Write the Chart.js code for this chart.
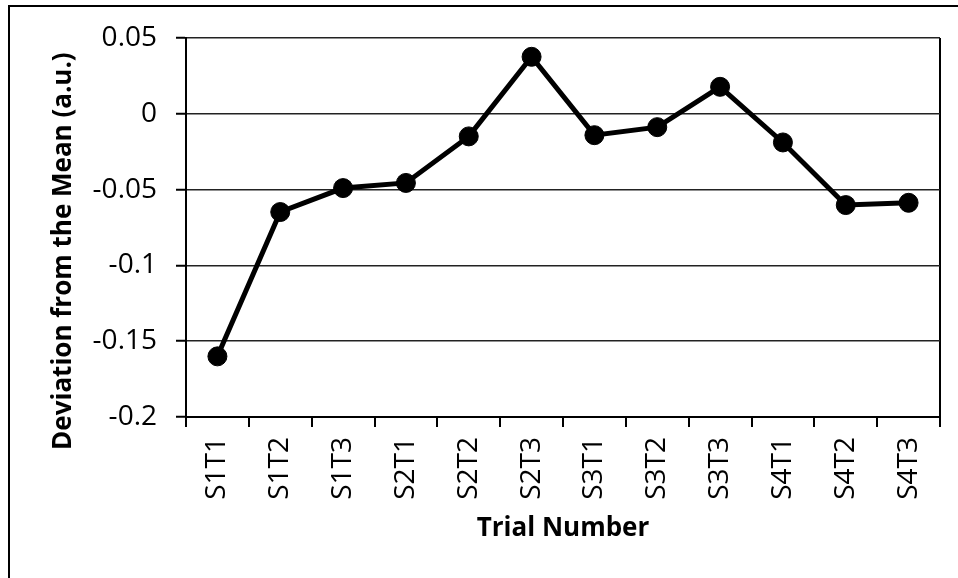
<!DOCTYPE html>
<html>
<head>
<meta charset="utf-8">
<script src="https://cdn.jsdelivr.net/npm/chart.js@4.4.1/dist/chart.umd.min.js"></script>
<style>
  html, body { margin: 0; padding: 0; background: #fff; overflow: hidden; }
  #wrap { position: relative; width: 958px; height: 578px; }
  #frame {
    position: absolute; left: 8px; top: 5px; width: 1000px; height: 600px;
    border-top: 2px solid #000; border-left: 2px solid #000; pointer-events: none;
  }
</style>
</head>
<body>
<div id="wrap">
  <canvas id="chart" width="958" height="578"></canvas>
  <div id="frame"></div>
</div>
<script>
const trials = ['S1T1', 'S1T2', 'S1T3', 'S2T1', 'S2T2', 'S2T3', 'S3T1', 'S3T2', 'S3T3', 'S4T1', 'S4T2', 'S4T3'];
const deviation = [-0.160, -0.0648, -0.049, -0.0456, -0.0149, 0.0376, -0.0141, -0.0088, 0.0178, -0.0189, -0.0602, -0.0587];
const yTicks = [-0.2, -0.15, -0.1, -0.05, 0, 0.05];

const tickFont = { family: "'Open Sans', sans-serif", size: 28 };
const titleFont = { family: "'Open Sans', sans-serif", size: 26, weight: 'bold', lineHeight: 1.2 };

new Chart(document.getElementById('chart'), {
    type: 'line',
    data: {
        labels: trials,
        datasets: [{
            data: deviation,
            borderColor: '#000',
            borderWidth: 5,
            backgroundColor: '#000',
            pointBackgroundColor: '#000',
            pointBorderColor: '#000',
            pointRadius: 9.5,
            pointBorderWidth: 1,
            tension: 0,
            clip: false
        }]
    },
    options: {
        responsive: false,
        animation: false,
        layout: { padding: { left: 0, top: 38, right: 18, bottom: 0 } },
        plugins: { legend: { display: false }, tooltip: { enabled: false } },
        scales: {
            x: {
                offset: true,
                grid: {
                    offset: true,
                    drawOnChartArea: true,
                    // only the closing line on the right edge is visible
                    color: c => c.index === undefined ? '#000' : 'rgba(0,0,0,0)',
                    lineWidth: 2,
                    tickLength: 10,
                    tickColor: '#000',
                    tickWidth: 2
                },
                border: { display: true, color: '#000', width: 2 },
                ticks: {
                    color: '#000',
                    font: tickFont,
                    minRotation: 90,
                    maxRotation: 90,
                    padding: 10,
                    autoSkip: false
                },
                title: {
                    display: true,
                    text: 'Trial Number',
                    color: '#000',
                    font: titleFont,
                    padding: { top: 0, bottom: 34 }
                },
                afterFit: s => { s.height = 161; }
            },
            y: {
                min: -0.2,
                max: 0.05,
                afterBuildTicks: s => { s.ticks = yTicks.map(v => ({ value: v })); },
                grid: {
                    color: '#222',
                    lineWidth: 1.5,
                    tickLength: 10,
                    tickColor: '#000',
                    tickWidth: 2
                },
                border: { display: true, color: '#000', width: 2 },
                ticks: {
                    color: '#000',
                    font: tickFont,
                    padding: 19,
                    callback: v => String(+v.toFixed(2))
                },
                title: {
                    display: true,
                    text: 'Deviation from the Mean (a.u.)\u00A0\u00A0\u00A0\u00A0\u00A0\u00A0\u00A0',
                    color: '#000',
                    font: titleFont,
                    padding: { top: 48, bottom: 0 }
                },
                afterFit: s => { s.width = 186; }
            }
        }
    }
});
</script>
</body>
</html>
